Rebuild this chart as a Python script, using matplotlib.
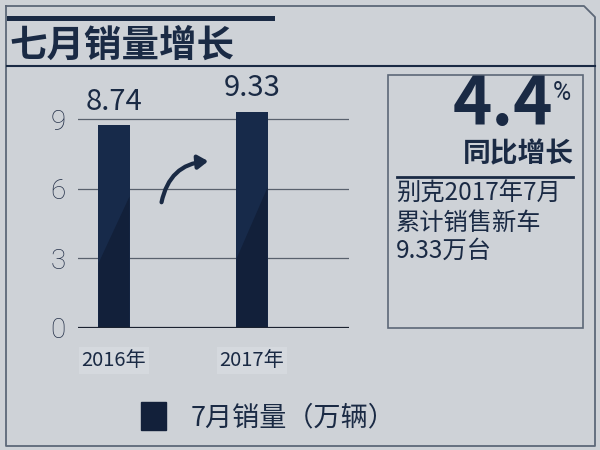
import matplotlib
matplotlib.use('Agg')
import matplotlib.pyplot as plt
from matplotlib.patches import Rectangle, FancyArrowPatch, Polygon
from matplotlib.lines import Line2D

plt.rcParams['font.family'] = ['Noto Sans CJK SC', 'DejaVu Sans']

years = ['2016年', '2017年']
sales = [8.74, 9.33]
value_labels = ['8.74', '9.33']
y_ticks = [0, 3, 6, 9]
title = '七月销量增长'
legend_label = '7月销量（万辆）'
growth = '4.4'
growth_note = ['别克2017年7月', '累计销售新车', '9.33万台']

BG = '#ced2d7'
NAVY = '#172a4a'
DARK = '#12203a'
TEXT = '#1a2a44'
W, H = 600, 450


def px(x, y):
    # pixel position (from top-left) -> figure fraction
    return x / W, 1 - y / H


fig = plt.figure(figsize=(6, 4.5), dpi=100, facecolor=BG)

# frame and header decoration
fig.add_artist(Line2D(*zip(px(6, 6), px(584, 6), px(595, 17), px(595, 446),
                           px(6, 446), px(6, 6)),
                      transform=fig.transFigure, color='#5d6878', lw=1.3))
x0, y0 = px(7, 21)
fig.add_artist(Rectangle((x0, y0), 268 / W, 5 / H, transform=fig.transFigure,
                         color=TEXT, lw=0))
fig.add_artist(Line2D(*zip(px(7, 66), px(595, 66)), transform=fig.transFigure,
                      color=TEXT, lw=1.5))
fig.text(*px(9, 45), title, fontsize=27, fontweight='bold', color=TEXT,
         ha='left', va='center')

# bar chart
l, b = px(78, 328)
ax = fig.add_axes([l, b, 271 / W, 231.7 / H])
ax.set_facecolor('none')
xs = list(range(len(years)))
bars = ax.bar(xs, sales, width=0.225, color=NAVY, zorder=3)
for bar in bars:
    bx, bw, bh = bar.get_x(), bar.get_width(), bar.get_height()
    ax.add_patch(Polygon([(bx, 0), (bx + bw, 0), (bx + bw, bh * 0.65),
                          (bx, bh * 0.32)], closed=True, color=DARK, lw=0,
                         zorder=4))
for x, v, lab in zip(xs, sales, value_labels):
    ax.annotate(lab, (x, v), xytext=(0, 6), textcoords='offset points',
                ha='center', va='bottom', fontsize=21, color=TEXT,
                annotation_clip=False)

ax.set_xlim(-0.261, 1.703)
ax.set_ylim(0, 10)
ax.set_yticks(y_ticks)
ax.set_yticklabels([str(t) for t in y_ticks])
for t in y_ticks[1:]:
    ax.axhline(t, color='#59616d', lw=0.9, zorder=1)
ax.axhline(0, color='#1b2230', lw=1.6, zorder=5)
ax.set_xticks(xs)
ax.set_xticklabels(years)
ax.tick_params(axis='y', length=0, pad=9, labelsize=20, labelcolor='#26324a')
ax.tick_params(axis='x', length=0, pad=16, labelsize=14.5, labelcolor=TEXT)
for lbl in ax.get_yticklabels():
    lbl.set_family(['Roboto', 'DejaVu Sans'])
    lbl.set_fontweight('light')
for lbl in ax.get_xticklabels():
    lbl.set_bbox(dict(facecolor='#d5d9de', edgecolor='none', pad=2))
for s in ax.spines.values():
    s.set_visible(False)

# growth arrow
fig.add_artist(FancyArrowPatch(px(161, 205), px(211, 161),
                               transform=fig.transFigure,
                               connectionstyle='arc3,rad=-0.4',
                               arrowstyle='-|>,head_length=6,head_width=4',
                               color=TEXT, lw=3))

# legend
fig.legend([Rectangle((0, 0), 1, 1, color=DARK)], [legend_label],
           loc='center', bbox_to_anchor=px(268, 417), frameon=False,
           fontsize=19.5, handlelength=0.95, handleheight=1.2, handletextpad=0.9,
           labelcolor=TEXT)

# right info box
bx0, by0 = px(388, 328)
fig.add_artist(Rectangle((bx0, by0), 195 / W, 253 / H, transform=fig.transFigure,
                         facecolor='none', edgecolor='#5d6878', lw=1.2))
fig.text(*px(553, 106), growth, fontsize=48, fontweight='heavy', color=TEXT,
         ha='right', va='center')
fig.text(*px(562, 93), '%', fontsize=18, color=TEXT, ha='center', va='center',
         family=['Roboto', 'DejaVu Sans'])
fig.text(*px(574, 154), '同比增长', fontsize=20, fontweight='bold', color=TEXT,
         ha='right', va='center')
fig.add_artist(Line2D(*zip(px(397, 177), px(573, 177)), transform=fig.transFigure,
                      color=TEXT, lw=2))
for i, line in enumerate(growth_note):
    fig.text(*px(396, 194 + 28.5 * i), line, fontsize=17.5, color=TEXT,
             ha='left', va='center')

fig.savefig('out.png', dpi=100, facecolor=BG)
